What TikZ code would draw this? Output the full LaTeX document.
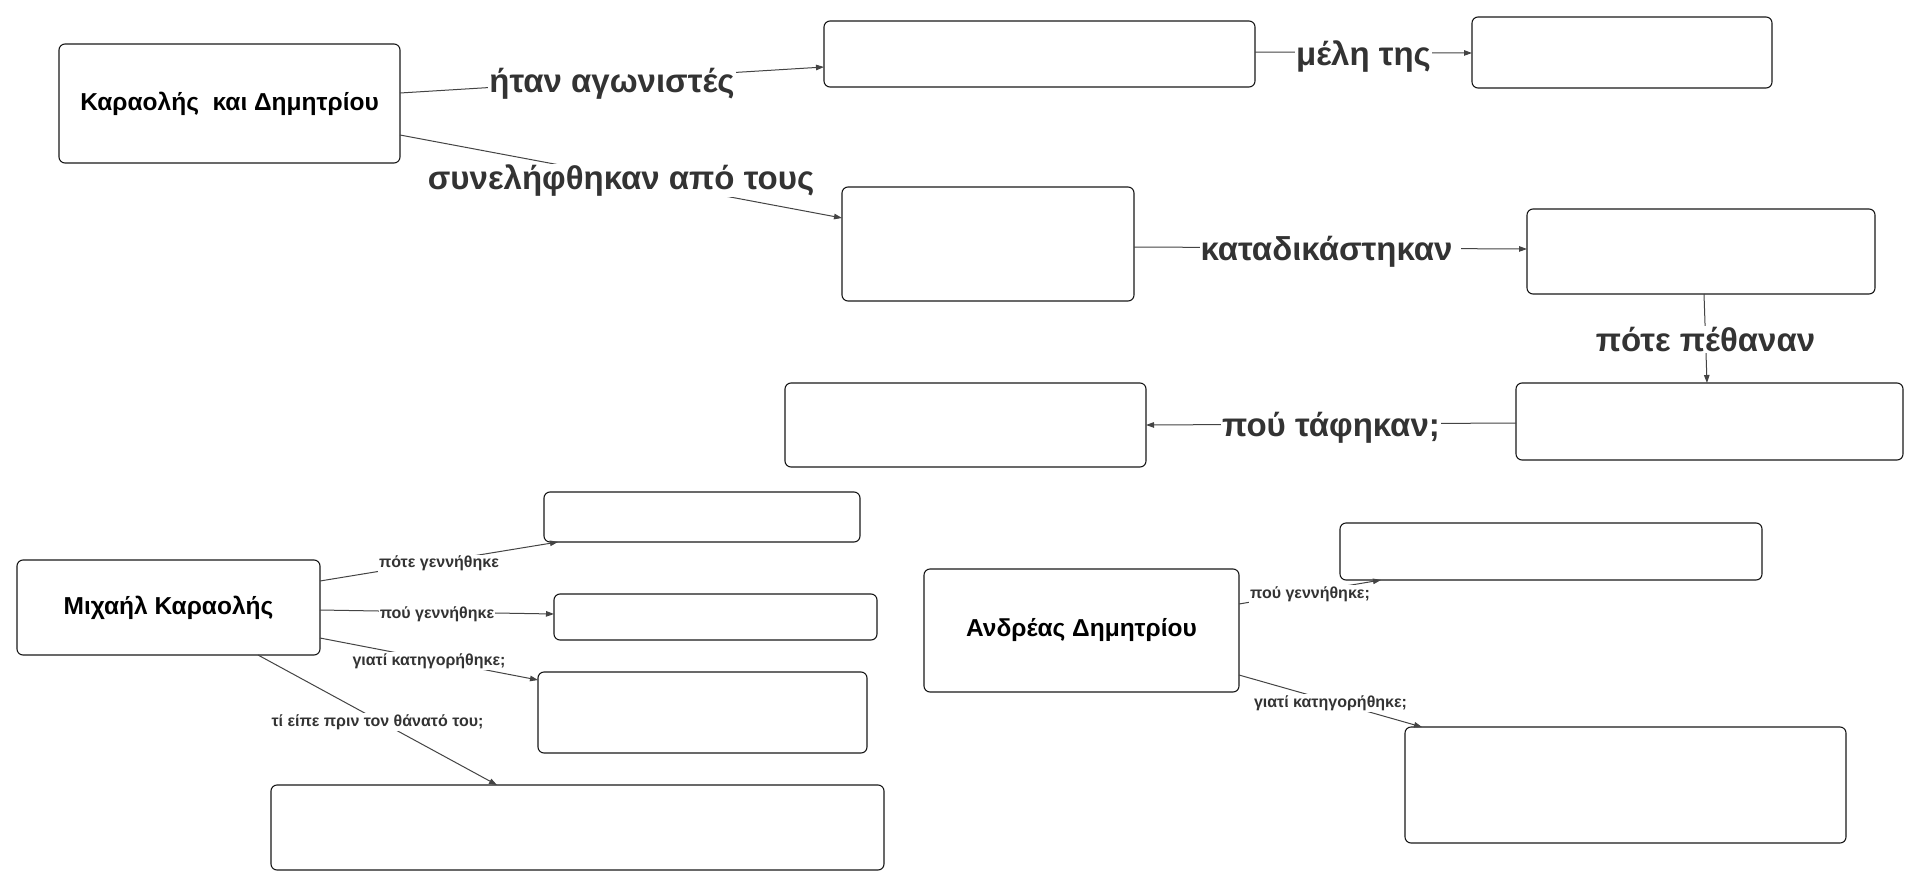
\documentclass[tikz,border=0pt]{standalone}
\usepackage{fontspec}
\setmainfont{Liberation Sans}
\usetikzlibrary{arrows.meta}
\definecolor{lblgray}{HTML}{333333}
\definecolor{linegray}{HTML}{444444}
\tikzset{
  box/.style={draw=black!90, line width=1.1pt, rounded corners=6pt, fill=white, inner sep=0pt, outer sep=0pt, align=center, font=\fontsize{24.5}{28}\selectfont\bfseries},
  conn/.style={draw=linegray, line width=1pt, -{Triangle[length=8pt,width=5.5pt]}},
  biglbl/.style={fill=white, inner sep=1pt, yshift=-4pt, text=lblgray, font=\fontsize{33}{37}\selectfont\bfseries},
  smalllbl/.style={fill=white, inner sep=1pt, yshift=-2pt, text=lblgray, font=\fontsize{16}{19}\selectfont\bfseries},
}
\begin{document}
\begin{tikzpicture}[x=1pt, y=-1pt]
\useasboundingbox[fill=white] (0,0) rectangle (1920,886);
% top part
\node[box, minimum width=341pt, minimum height=119pt] (A) at (229.5,103.5) {Καραολής\ \ και Δημητρίου};
\node[box, minimum width=431pt, minimum height=66pt] (B) at (1039.5,54) {};
\node[box, minimum width=300pt, minimum height=71pt] (C) at (1622,52.5) {};
\node[box, minimum width=292pt, minimum height=114pt] (D) at (988,244) {};
\node[box, minimum width=348pt, minimum height=85pt] (E) at (1701,251.5) {};
\node[box, minimum width=387pt, minimum height=77pt] (F) at (1709.5,421.5) {};
\node[box, minimum width=361pt, minimum height=84pt] (G) at (965.5,425) {};
% bottom left
\node[box, minimum width=303pt, minimum height=95pt] (H) at (168.5,607.5) {Μιχαήλ Καραολής};
\node[box, minimum width=316pt, minimum height=50pt] (I) at (702,517) {};
\node[box, minimum width=323pt, minimum height=46pt] (J) at (715.5,617) {};
\node[box, minimum width=329pt, minimum height=81pt] (K) at (702.5,712.5) {};
\node[box, minimum width=613pt, minimum height=85pt] (L) at (577.5,827.5) {};
% bottom right
\node[box, minimum width=315pt, minimum height=123pt] (M) at (1081.5,630.5) {Ανδρέας Δημητρίου};
\node[box, minimum width=422pt, minimum height=57pt] (N) at (1551,551.5) {};
\node[box, minimum width=441pt, minimum height=116pt] (O) at (1625.5,785) {};

% connectors top
\draw[conn] ([yshift=10.5pt]A.east) -- node[biglbl]{ήταν αγωνιστές} ([yshift=-13pt]B.west);
\draw[conn] ([yshift=-31.5pt]A.east) -- node[biglbl]{συνελήφθηκαν από τους} ([yshift=26pt]D.west);
\draw[conn] ([yshift=2pt]B.east) -- node[biglbl]{μέλη της} ([yshift=-0.5pt]C.west);
\draw[conn] ([yshift=-3pt]D.east) -- node[biglbl]{καταδικάστηκαν\kern8pt} ([yshift=2.5pt]E.west);
\draw[conn] ([xshift=3pt]E.south) -- node[biglbl, yshift=3pt]{πότε πέθαναν} ([xshift=-2.5pt]F.north);
\draw[conn] ([yshift=-1.5pt]F.west) -- node[biglbl]{πού τάφηκαν;} (G.east);
% connectors bottom left
\draw[conn] ([yshift=26.5pt]H.east) -- node[smalllbl]{πότε γεννήθηκε} ([xshift=14pt]I.south west);
\draw[conn] ([yshift=-2.5pt]H.east) -- node[smalllbl]{πού γεννήθηκε} ([yshift=3pt]J.west);
\draw[conn] ([yshift=-30.5pt]H.east) -- node[smalllbl]{γιατί κατηγορήθηκε;} ([yshift=-8pt]K.north west);
\draw[conn] ([xshift=89.5pt]H.south) -- node[smalllbl]{τί είπε πριν τον θάνατό του;} ([xshift=-80.5pt]L.north);
% connectors bottom right
\draw[conn] ([yshift=26.5pt]M.east) -- node[smalllbl]{πού γεννήθηκε;} ([xshift=41pt]N.south west);
\draw[conn] ([yshift=-44.5pt]M.east) -- node[smalllbl]{γιατί κατηγορήθηκε;} ([xshift=17pt]O.north west);
\end{tikzpicture}
\end{document}
